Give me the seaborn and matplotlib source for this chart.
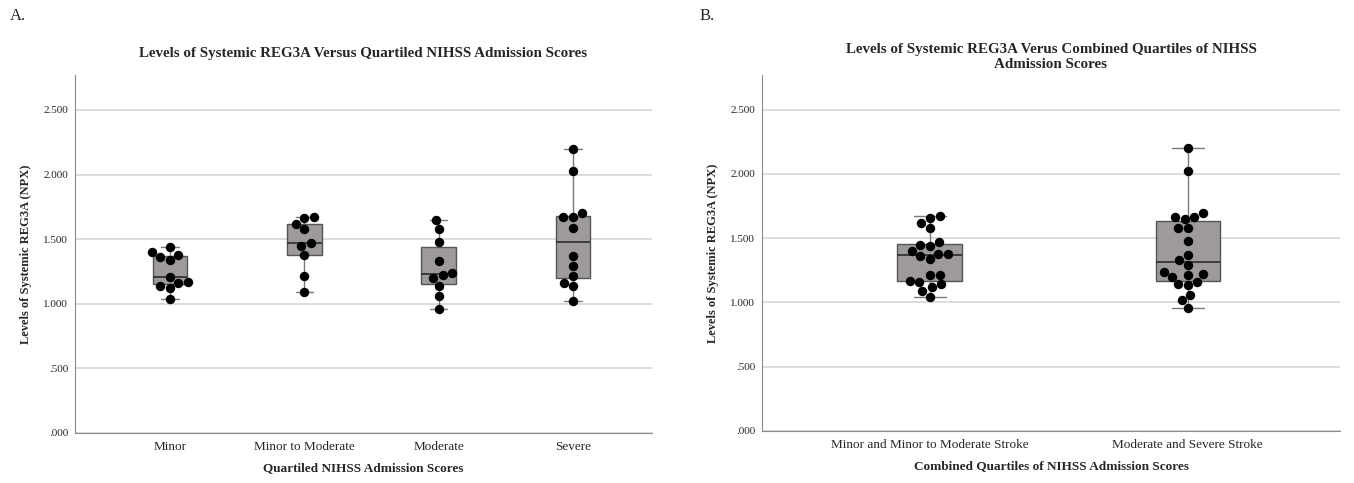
import matplotlib
import matplotlib.pyplot as plt
import numpy as np
import pandas as pd
import seaborn as sns

matplotlib.use("Agg")

# REG3A levels (NPX), one list per NIHSS quartile
minor = [1.04, 1.12, 1.14, 1.16, 1.17, 1.21, 1.34, 1.36, 1.38, 1.40, 1.44]
minor_to_moderate = [1.09, 1.215, 1.38, 1.45, 1.47, 1.58, 1.62, 1.66, 1.67]
moderate = [0.96, 1.06, 1.14, 1.20, 1.22, 1.24, 1.33, 1.48, 1.58, 1.65]
severe = [1.02, 1.137, 1.16, 1.215, 1.293, 1.37, 1.583, 1.669, 1.669, 1.70, 2.026, 2.2]

quartile_labels = ["Minor", "Minor to Moderate", "Moderate", "Severe"]
combined_labels = ["Minor and Minor to Moderate Stroke", "Moderate and Severe Stroke"]
y_ticks = [0.0, 0.5, 1.0, 1.5, 2.0, 2.5]
y_tick_labels = [".000", ".500", "1.000", "1.500", "2.000", "2.500"]

groups = [minor, minor_to_moderate, moderate, severe]
quartiles = pd.DataFrame(
    {
        "group": np.repeat(quartile_labels, [len(g) for g in groups]),
        "npx": np.concatenate(groups),
    }
)
low = minor + minor_to_moderate
high = moderate + severe
combined = pd.DataFrame(
    {
        "group": np.repeat(combined_labels, [len(low), len(high)]),
        "npx": np.concatenate([low, high]),
    }
)

sns.set_style("white")
plt.rcParams["font.family"] = ["Liberation Serif", "DejaVu Serif"]

W, H = 1354, 483
fig = plt.figure(figsize=(W / 100, H / 100), dpi=100)
ax_a = fig.add_axes([75 / W, (H - 433) / H, 577 / W, 358 / H])
ax_b = fig.add_axes([762 / W, (H - 431) / H, 578 / W, 356 / H])


def draw(ax, data, order, width, xlim, title, xlabel, pad):
    sns.boxplot(
        data=data, x="group", y="npx", order=order, width=width,
        color="#9e9a9a", saturation=1, linecolor="#555555", linewidth=1,
        showfliers=False, medianprops={"color": "#333333", "linewidth": 1.3},
        whiskerprops={"color": "#7a7a7a"}, capprops={"color": "#7a7a7a"},
        ax=ax,
    )
    sns.swarmplot(data=data, x="group", y="npx", order=order, color="black",
                  size=6.8, ax=ax)
    ax.set_xlim(*xlim)
    ax.set_ylim(0, 2.77)
    ax.set_yticks(y_ticks)
    ax.set_yticklabels(y_tick_labels, fontsize=8)
    ax.tick_params(axis="x", labelsize=9.5, length=0, pad=6)
    ax.tick_params(axis="y", length=0, pad=5)
    ax.yaxis.grid(True, color="#d6d6d6", linewidth=1.2)
    ax.set_axisbelow(True)
    for side in ("top", "right"):
        ax.spines[side].set_visible(False)
    for side in ("left", "bottom"):
        ax.spines[side].set_color("#8a8a8a")
        ax.spines[side].set_linewidth(0.8)
    ax.set_title(title, fontsize=10.8, fontweight="bold", pad=pad)
    ax.set_xlabel(xlabel, fontsize=9.5, fontweight="bold", labelpad=6)
    ax.set_ylabel("Levels of Systemic REG3A (NPX)", fontsize=9, fontweight="bold",
                  labelpad=8)


draw(ax_a, quartiles, quartile_labels, 0.26, (-0.707, 3.588),
     "Levels of Systemic REG3A Versus Quartiled NIHSS Admission Scores",
     "Quartiled NIHSS Admission Scores", 13)
draw(ax_b, combined, combined_labels, 0.25, (-0.65, 1.59),
     "Levels of Systemic REG3A Verus Combined Quartiles of NIHSS\nAdmission Scores",
     "Combined Quartiles of NIHSS Admission Scores", 5)

fig.text(10 / W, 1 - 16 / H, "A.", fontsize=12, va="center")
fig.text(700 / W, 1 - 16 / H, "B.", fontsize=12, va="center")

fig.savefig("out.png", dpi=100)
plt.close(fig)
